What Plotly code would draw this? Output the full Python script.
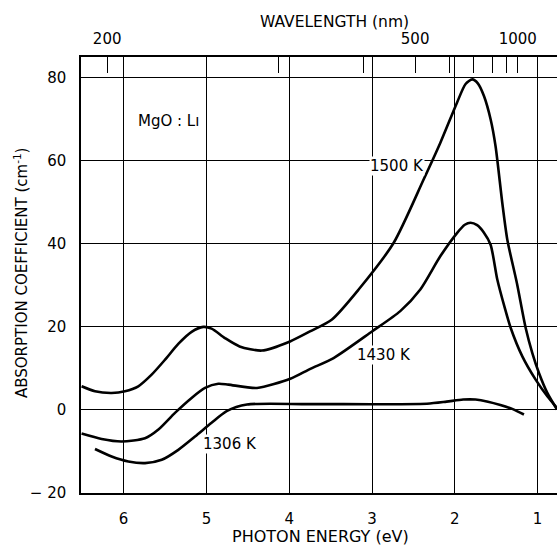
import plotly.graph_objects as go

# ---- data ----
e_1500 = [6.508, 6.346, 6.145, 5.984, 5.823, 5.662, 5.50, 5.34, 5.179, 5.038, 4.938, 4.776, 4.60, 4.33, 3.99, 3.75, 3.484, 3.162, 2.74, 2.377, 2.176, 1.974, 1.87, 1.789, 1.72, 1.648, 1.568, 1.508, 1.427, 1.366, 1.25, 1.145, 1.064, 0.984, 0.883, 0.766]
a_1500 = [5.7, 4.5, 4.1, 4.5, 5.7, 8.5, 12.1, 15.9, 18.8, 20.0, 19.6, 17.3, 15.3, 14.3, 16.5, 18.9, 21.8, 29.0, 40.2, 55.5, 64.3, 74.0, 78.5, 79.6, 78.6, 75.6, 70.0, 63.5, 49.9, 41.0, 30.5, 19.8, 13.7, 8.9, 4.1, 0.1]

e_1430 = [6.508, 6.266, 6.025, 5.742, 5.58, 5.38, 5.179, 5.017, 4.857, 4.736, 4.389, 3.987, 3.745, 3.464, 3.0, 2.659, 2.417, 2.176, 1.974, 1.88, 1.81, 1.73, 1.648, 1.568, 1.487, 1.40, 1.326, 1.185, 1.024, 0.883, 0.766]
a_1430 = [-5.7, -7.0, -7.6, -6.8, -4.7, -0.7, 2.9, 5.3, 6.3, 6.1, 5.3, 7.5, 9.9, 12.5, 18.9, 23.8, 29.0, 37.0, 42.6, 44.6, 45.1, 44.5, 42.7, 39.8, 31.4, 24.8, 19.8, 12.9, 7.3, 3.3, 0.5]

e_1306 = [6.346, 6.145, 5.944, 5.742, 5.54, 5.34, 5.138, 4.938, 4.756, 4.51, 3.745, 2.337, 2.10, 1.90, 1.75, 1.60, 1.45, 1.30, 1.165]
a_1306 = [-9.4, -11.2, -12.4, -12.8, -12.0, -9.6, -6.4, -3.1, -0.3, 1.3, 1.4, 1.5, 2.0, 2.5, 2.5, 2.0, 1.2, 0.2, -1.1]

energy_ticks = [6, 5, 4, 3, 2, 1]
absorb_ticks = [-20, 0, 20, 40, 60, 80]
absorb_labels = ["\u2212 20", "0", "20", "40", "60", "80"]
wavelengths = [200, 300, 400, 500, 600, 700, 800, 900, 1000]
wavelength_labels = ["200", "", "", "500", "", "", "", "", "1000"]

HC = 1239.84  # eV*nm
wl_pos = [HC / w for w in wavelengths]

x_range = [6.515, 0.766]
y_range = [-20, 85]

L, T, B, R = 81, 57, 53, 0
W, H = 557, 546
PW, PH = W - L - R, H - T - B

FAM = "DejaVu Sans, Liberation Sans, sans-serif"
font = dict(family=FAM, size=15, color="black")
line_style = dict(color="black", width=2.6, shape="spline", smoothing=0.7)

fig = go.Figure()
for e, a, name in [(e_1500, a_1500, "1500 K"), (e_1430, a_1430, "1430 K"), (e_1306, a_1306, "1306 K")]:
    fig.add_trace(go.Scatter(x=e, y=a, mode="lines", line=line_style, name=name, showlegend=False))

# invisible trace on the top axis
fig.add_trace(go.Scatter(x=[x_range[0]], y=[0], xaxis="x2", mode="markers",
                         marker=dict(opacity=0), showlegend=False, hoverinfo="skip"))

fig.update_layout(
    width=W, height=H,
    margin=dict(l=L, r=R, t=T, b=B, autoexpand=False),
    paper_bgcolor="white", plot_bgcolor="white",
    font=font,
    xaxis=dict(range=x_range, tickvals=energy_ticks, ticktext=[str(t) for t in energy_ticks],
               showgrid=True, gridcolor="black", gridwidth=1, zeroline=False, automargin=False,
               showline=True, linecolor="black", linewidth=1.5, ticks="", mirror=False,
               ticklabelstandoff=11, tickfont=font),
    xaxis2=dict(range=x_range, overlaying="x", side="top", tickvals=wl_pos, ticktext=wavelength_labels,
                ticks="inside", ticklen=16, tickwidth=1.2, tickcolor="black", automargin=False,
                showgrid=False, zeroline=False, showline=True, linecolor="black", linewidth=1.5,
                tickfont=font, ticklabelstandoff=5),
    yaxis=dict(range=y_range, tickvals=absorb_ticks, ticktext=absorb_labels, automargin=False,
               showgrid=True, gridcolor="black", gridwidth=1, zeroline=False, mirror=False,
               showline=True, linecolor="black", linewidth=1.5, ticks="",
               ticklabelstandoff=10, tickfont=font),
)

def px_to_paper(px, py):
    return (px - L) / PW, (H - B - py) / PH

for txt, px, py, ang, size in [("PHOTON ENERGY (eV)", 320, 536, 0, 16),
                               ("WAVELENGTH (nm)", 334, 22, 0, 15.5),
                               ("ABSORPTION COEFFICIENT (cm<sup>-1</sup>)", 21, 273, -90, 15)]:
    xp, yp = px_to_paper(px, py)
    fig.add_annotation(text=txt, xref="paper", yref="paper", x=xp, y=yp, showarrow=False,
                       textangle=ang, font=dict(family=FAM, size=size, color="black"),
                       xanchor="center", yanchor="middle")

for txt, xe, ya in [("MgO : Lı", 5.46, 69.5), ("1500 K", 2.695, 58.7),
                    ("1430 K", 2.85, 13.3), ("1306 K", 4.71, -8.1)]:
    fig.add_annotation(text=txt, x=xe, y=ya, showarrow=False, font=font,
                       xanchor="center", yanchor="middle", bgcolor="white", borderpad=0)

fig.write_html("out.html", config={"displayModeBar": False},
               post_script="document.body.style.margin='0';document.body.style.overflow='hidden';")
